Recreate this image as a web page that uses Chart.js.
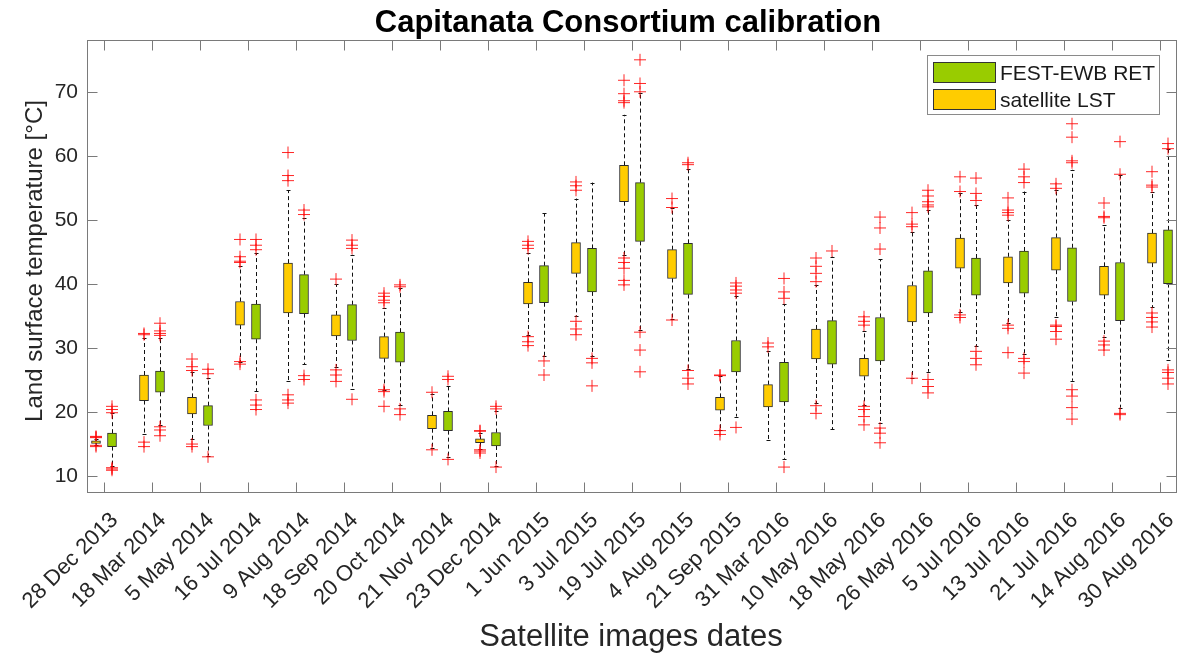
<!DOCTYPE html>
<html>
<head>
<meta charset="utf-8">
<title>Capitanata Consortium calibration</title>
<script src="https://cdn.jsdelivr.net/npm/chart.js@4.4.1/dist/chart.umd.min.js"></script>
<style>
  html, body { margin: 0; padding: 0; background: #fff; }
  #wrap { width: 1200px; height: 655px; }
</style>
</head>
<body>
<div id="wrap"><canvas id="cv" width="1200" height="655"></canvas></div>
<script>
// acquisition dates (one box pair per date)
const dates = ['28 Dec 2013', '18 Mar 2014', '5 May 2014', '16 Jul 2014', '9 Aug 2014', '18 Sep 2014',
  '20 Oct 2014', '21 Nov 2014', '23 Dec 2014', '1 Jun 2015', '3 Jul 2015', '19 Jul 2015', '4 Aug 2015',
  '21 Sep 2015', '31 Mar 2016', '10 May 2016', '18 May 2016', '26 May 2016', '5 Jul 2016', '13 Jul 2016',
  '21 Jul 2016', '14 Aug 2016', '30 Aug 2016'];
const yTicks = [10, 20, 30, 40, 50, 60, 70];

// satellite LST: quartiles, whisker ends, outliers
const lstQ1 = [15.1, 21.8, 19.7, 33.6, 35.5, 31.9, 28.4, 17.4, 15.2, 36.9, 41.7, 52.9, 40.9, 20.3, 20.8, 28.3, 25.6, 34.1, 42.5, 40.2, 42.2, 38.3, 43.3];
const lstQ3 = [15.5, 25.8, 22.3, 37.3, 43.3, 35.2, 31.8, 19.5, 15.8, 40.3, 46.5, 58.6, 45.4, 22.3, 24.3, 33.0, 28.4, 39.8, 47.2, 44.3, 47.3, 42.8, 48.0];
const lstLo = [14.9, 16.6, 15.8, 27.9, 24.9, 27.1, 23.5, 14.4, 14.3, 32.1, 35.0, 44.6, 34.5, 17.2, 15.7, 21.4, 21.1, 25.4, 35.7, 34.0, 34.9, 31.8, 36.4];
const lstHi = [15.8, 31.6, 26.2, 42.8, 54.7, 40.0, 36.3, 22.9, 16.8, 44.9, 53.4, 66.5, 51.9, 25.6, 29.6, 39.9, 32.7, 48.2, 54.2, 50.1, 54.7, 49.3, 54.4];
const lstOut = [
  [16.0, 16.1, 16.2, 14.6, 14.8], [32.1, 32.3, 15.3, 14.6], [28.3, 27.1, 26.5, 15.0, 14.6],
  [47.0, 44.3, 43.6, 43.4, 27.9, 27.5], [60.6, 57.0, 56.2, 22.7, 21.9, 21.4], [40.8, 26.6, 25.8, 24.8],
  [38.6, 38.1, 37.5, 37.1, 23.5, 23.2, 20.9], [23.1, 14.1], [17.1, 17.0, 14.1, 13.9, 13.6],
  [46.7, 46.1, 45.6, 31.8, 31.0, 30.4], [56.0, 55.4, 54.7, 34.2, 33.0, 32.1],
  [71.9, 69.8, 68.7, 68.4, 44.1, 43.4, 42.5, 40.6, 39.9], [53.4, 52.0, 34.4], [25.7, 25.8, 17.1, 16.5],
  [30.8, 30.2], [44.1, 42.8, 41.7, 40.4, 21.0, 19.8], [34.9, 34.2, 33.6, 20.9, 20.4, 19.3, 18.0],
  [51.2, 49.4, 49.0, 25.3], [56.8, 54.5, 35.2, 34.8], [53.5, 51.6, 51.2, 50.8, 33.6, 33.1, 29.3],
  [55.7, 55.0, 33.6, 33.4, 32.6, 31.4], [52.7, 50.6, 50.4, 31.1, 30.5, 29.7],
  [57.6, 55.5, 55.2, 35.5, 34.8, 34.1, 33.3]
];

// FEST-EWB RET: quartiles, whisker ends, outliers
const retQ1 = [14.6, 23.1, 17.9, 31.4, 35.4, 31.2, 27.8, 17.1, 14.7, 37.1, 38.8, 46.7, 38.4, 26.3, 21.6, 27.5, 28.0, 35.5, 38.3, 38.6, 37.3, 34.3, 40.1];
const retQ3 = [16.7, 26.4, 21.0, 36.9, 41.5, 36.8, 32.5, 20.1, 16.8, 42.9, 45.6, 55.9, 46.4, 31.2, 27.8, 34.3, 34.8, 42.1, 44.1, 45.2, 45.7, 43.4, 48.5];
const retLo = [11.6, 18.0, 13.2, 23.3, 27.5, 23.6, 21.1, 12.9, 11.5, 28.8, 28.8, 32.9, 26.7, 19.3, 12.7, 17.3, 18.3, 26.3, 30.3, 29.1, 24.9, 20.7, 28.2];
const retHi = [19.8, 31.6, 25.4, 44.9, 50.3, 44.6, 39.4, 24.1, 20.1, 51.1, 55.9, 69.9, 58.1, 38.2, 36.9, 44.3, 43.9, 51.6, 52.4, 54.5, 57.9, 57.1, 61.1];
const retOut = [
  [19.9, 20.4, 20.9, 11.3, 11.1, 10.9], [33.9, 32.7, 32.3, 32.0, 17.7, 17.2, 16.3], [26.7, 26.0, 13.0],
  [47.0, 46.1, 45.4, 21.9, 21.1, 20.4], [51.6, 50.9, 25.7, 25.1], [46.9, 46.1, 45.6, 22.0],
  [39.9, 39.6, 20.5, 19.6], [25.6, 25.1, 12.6], [20.9, 20.5, 11.4], [28.0, 25.8], [28.4, 27.7, 24.1],
  [75.1, 71.4, 70.1, 32.5, 29.7, 26.3], [59.0, 58.7, 26.5, 25.3, 24.4], [40.2, 39.7, 39.1, 38.6, 17.6],
  [40.9, 38.8, 37.8, 11.4], [45.2], [50.5, 48.8, 45.5, 17.5, 16.7, 15.2],
  [54.7, 53.8, 52.9, 52.4, 52.1, 25.1, 24.0, 23.0], [56.6, 54.2, 53.1, 29.5, 28.4, 27.4],
  [58.0, 56.8, 55.9, 28.4, 27.9, 26.1], [65.1, 63.0, 59.3, 59.0, 23.5, 22.5, 20.7, 18.9],
  [62.3, 57.2, 19.8, 19.6], [62.0, 61.2, 26.6, 26.2, 25.3, 24.4]
];

const LST_COLOR = '#FFCC00';
const RET_COLOR = '#99CC00';
const SHIFT = 1 / 6;          // half distance between the two boxes of a date
const FONT = '"Liberation Sans", Arial, Helvetica, sans-serif';

const boxes = (q1, q3, dx) => q1.map((v, i) => ({ x: i + 1 + dx, y: [v, q3[i]] }));
const outliers = (out, dx) => out.flatMap((vals, i) => vals.map(v => ({ x: i + 1 + dx, y: v })));

// whiskers, frame, inward ticks, labels and legend
const boxPlotDecor = {
  id: 'boxPlotDecor',
  beforeDatasetsDraw(chart) {
    const { ctx, scales: { x, y } } = chart;
    const series = [[lstQ1, lstQ3, lstLo, lstHi, -SHIFT], [retQ1, retQ3, retLo, retHi, SHIFT]];
    ctx.save();
    ctx.strokeStyle = '#111';
    ctx.lineWidth = 1;
    series.forEach(([q1, q3, lo, hi, dx]) => {
      q1.forEach((v, i) => {
        const px = Math.round(x.getPixelForValue(i + 1 + dx)) + 0.5;
        ctx.setLineDash([4, 3]);
        ctx.beginPath();
        ctx.moveTo(px, y.getPixelForValue(q3[i]));
        ctx.lineTo(px, y.getPixelForValue(hi[i]));
        ctx.moveTo(px, y.getPixelForValue(v));
        ctx.lineTo(px, y.getPixelForValue(lo[i]));
        ctx.stroke();
        ctx.setLineDash([]);
        ctx.beginPath();
        [hi[i], lo[i]].forEach(w => {
          const py = Math.round(y.getPixelForValue(w)) + 0.5;
          ctx.moveTo(px - 2, py);
          ctx.lineTo(px + 2, py);
        });
        ctx.stroke();
      });
    });
    ctx.restore();
  },
  afterDraw(chart) {
    const { ctx, chartArea: a, scales: { x, y } } = chart;
    ctx.save();
    // axes box with ticks pointing inwards
    ctx.strokeStyle = '#7a7a7a';
    ctx.lineWidth = 1;
    const L = a.left - 0.5, R = a.right + 0.5, T = a.top + 0.5, B = a.bottom + 0.5;
    ctx.strokeRect(L, T, R - L, B - T);
    ctx.beginPath();
    dates.forEach((d, i) => {
      const px = Math.round(x.getPixelForValue(i + 1)) + 0.5;
      ctx.moveTo(px, B); ctx.lineTo(px, B - 10);
      ctx.moveTo(px, T); ctx.lineTo(px, T + 10);
    });
    yTicks.forEach(v => {
      const py = Math.round(y.getPixelForValue(v)) + 0.5;
      ctx.moveTo(L, py); ctx.lineTo(L + 10, py);
      ctx.moveTo(R, py); ctx.lineTo(R - 10, py);
    });
    ctx.stroke();

    // rotated date labels
    ctx.fillStyle = '#262626';
    ctx.font = '22px ' + FONT;
    ctx.textAlign = 'right';
    ctx.textBaseline = 'alphabetic';
    dates.forEach((d, i) => {
      const px = x.getPixelForValue(i + 1);
      ctx.save();
      ctx.translate(px + 15, a.bottom + 29);
      ctx.rotate(-Math.PI / 4);
      ctx.fillText(d, 0, 0);
      ctx.restore();
    });

    // axis titles
    ctx.textAlign = 'center';
    ctx.font = '31px ' + FONT;
    ctx.fillText('Satellite images dates', 631, 646);
    ctx.save();
    ctx.translate(35, 261);
    ctx.rotate(-Math.PI / 2);
    ctx.font = '24px ' + FONT;
    ctx.textBaseline = 'middle';
    ctx.fillText('Land surface temperature [°C]', 0, 0);
    ctx.restore();

    // chart title
    ctx.fillStyle = '#000';
    ctx.font = 'bold 31px ' + FONT;
    ctx.fillText('Capitanata Consortium calibration', 628, 32);

    // legend
    const lx = 927.5, ly = 55.5, lw = 232, lh = 59;
    ctx.fillStyle = '#fff';
    ctx.fillRect(lx, ly, lw, lh);
    ctx.strokeStyle = '#8a8a8a';
    ctx.strokeRect(lx, ly, lw, lh);
    const entries = [[RET_COLOR, 'FEST-EWB RET'], [LST_COLOR, 'satellite LST']];
    ctx.font = '21px ' + FONT;
    ctx.textAlign = 'left';
    entries.forEach(([c, label], k) => {
      const ry = 62.5 + k * 27;
      ctx.fillStyle = c;
      ctx.fillRect(933.5, ry, 62, 20);
      ctx.strokeStyle = '#333';
      ctx.strokeRect(933.5, ry, 62, 20);
      ctx.fillStyle = '#1a1a1a';
      ctx.fillText(label, 1000, 79.5 + k * 27);
    });
    ctx.restore();
  }
};

new Chart(document.getElementById('cv'), {
  type: 'bar',
  data: {
    datasets: [
      { label: 'satellite LST', data: boxes(lstQ1, lstQ3, -SHIFT), backgroundColor: LST_COLOR,
        borderColor: '#2b2b2b', borderWidth: 1, borderSkipped: false, barThickness: 9, grouped: false },
      { label: 'FEST-EWB RET', data: boxes(retQ1, retQ3, SHIFT), backgroundColor: RET_COLOR,
        borderColor: '#2b2b2b', borderWidth: 1, borderSkipped: false, barThickness: 9, grouped: false },
      { type: 'scatter', label: 'LST outliers', data: outliers(lstOut, -SHIFT), pointStyle: 'cross',
        radius: 6, borderColor: 'rgba(255,0,0,0.85)', borderWidth: 1 },
      { type: 'scatter', label: 'RET outliers', data: outliers(retOut, SHIFT), pointStyle: 'cross',
        radius: 6, borderColor: 'rgba(255,0,0,0.85)', borderWidth: 1 }
    ]
  },
  options: {
    responsive: false,
    animation: false,
    layout: { padding: { top: 40, right: 24, left: 0, bottom: 0 } },
    plugins: { legend: { display: false }, title: { display: false }, tooltip: { enabled: false } },
    scales: {
      x: {
        type: 'linear', min: 2 / 3, max: 23 + 1 / 3, offset: false,
        grid: { display: false }, border: { display: false },
        ticks: { display: false },
        afterBuildTicks: s => { s.ticks = dates.map((d, i) => ({ value: i + 1 })); },
        afterFit: s => { s.height = 163; }
      },
      y: {
        min: 7.5, max: 78.2,
        grid: { display: false }, border: { display: false },
        ticks: { color: '#262626', font: { family: FONT, size: 21 }, padding: 2 },
        afterBuildTicks: s => { s.ticks = yTicks.map(v => ({ value: v })); },
        afterFit: s => { s.width = 88; }
      }
    }
  },
  plugins: [boxPlotDecor]
});
</script>
</body>
</html>
